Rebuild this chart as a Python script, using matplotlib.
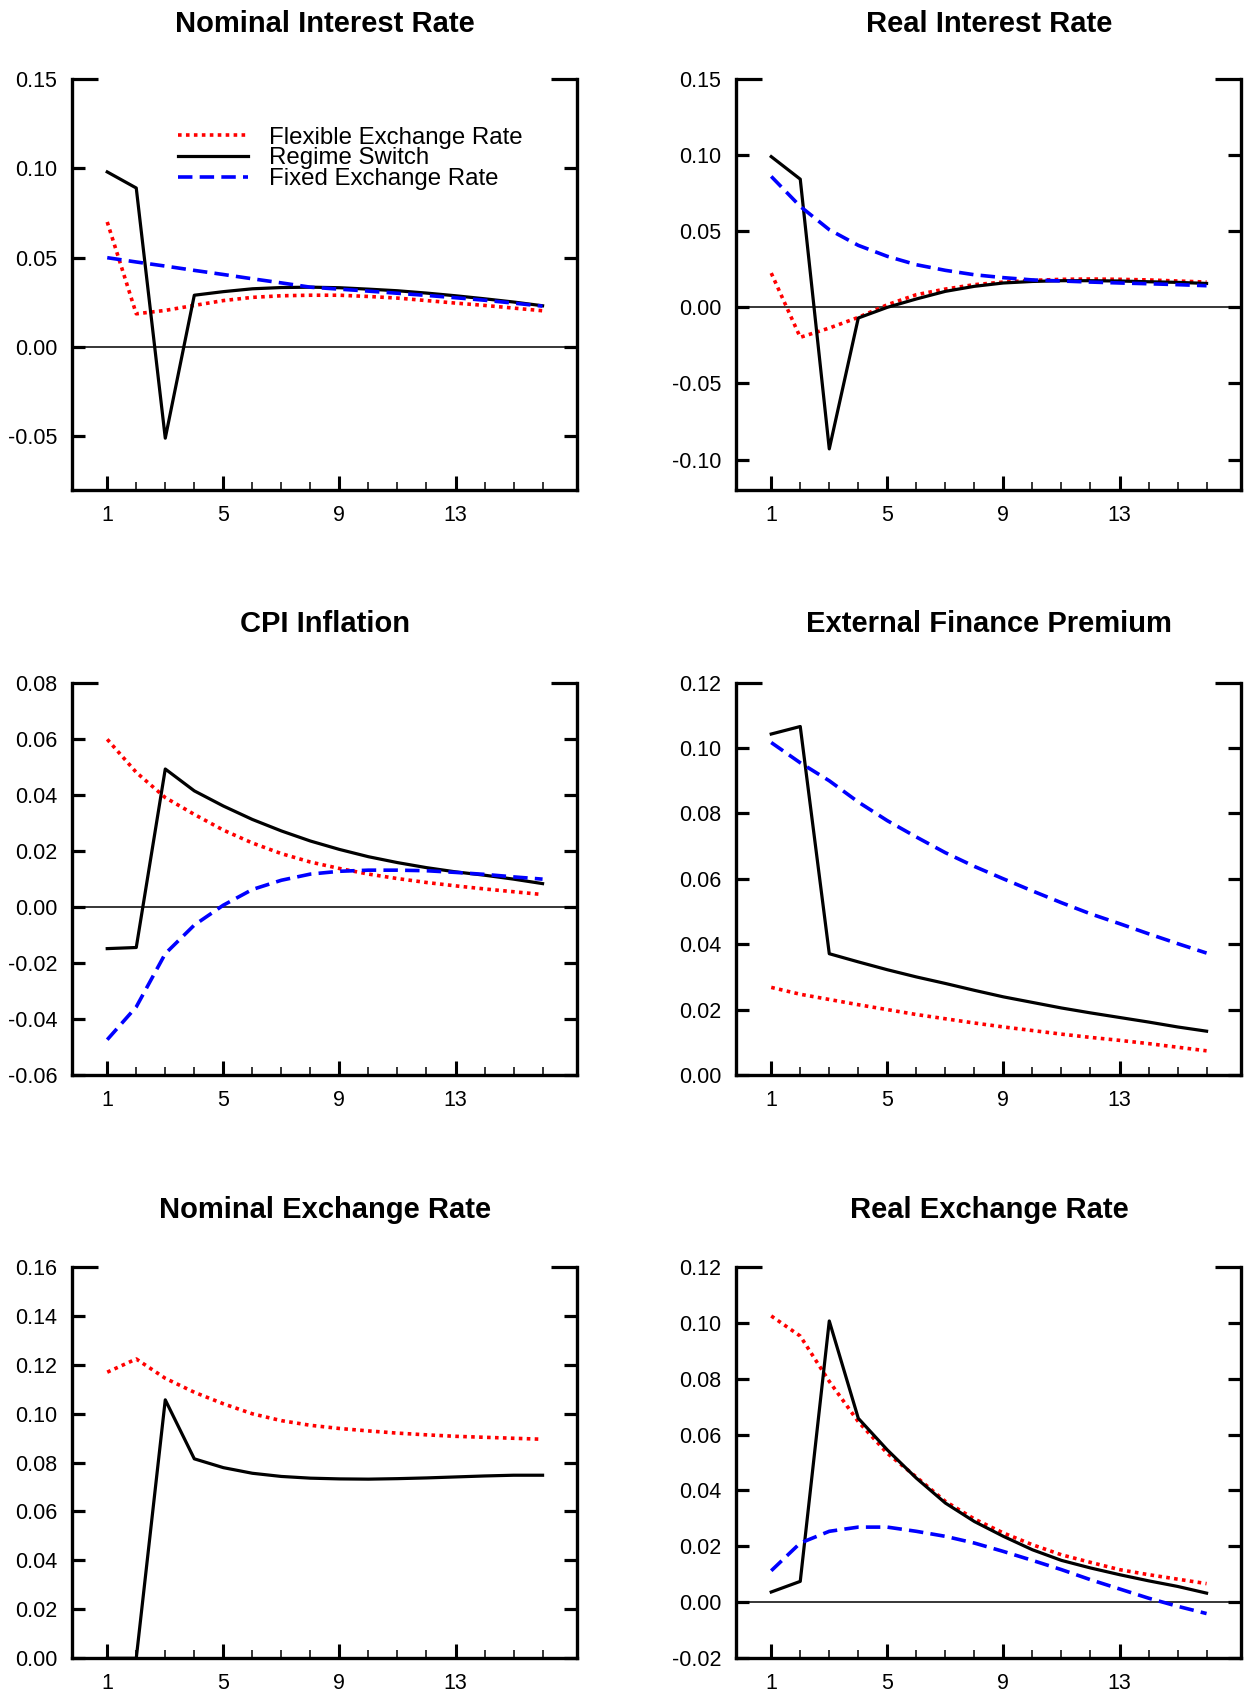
import numpy as np
import matplotlib
matplotlib.use("Agg")
import matplotlib.pyplot as plt
from matplotlib.ticker import FixedLocator, FormatStrFormatter

plt.rcParams['font.family'] = ['Liberation Sans', 'DejaVu Sans']

# ---------------- dados ----------------
periodos = np.arange(1, 17)

nomes_series = ["Flexible Exchange Rate", "Regime Switch", "Fixed Exchange Rate"]

titulos = ["Nominal Interest Rate", "Real Interest Rate",
           "CPI Inflation", "External Finance Premium",
           "Nominal Exchange Rate", "Real Exchange Rate"]

# Nominal Interest Rate
nir_flex = [0.070, 0.0186, 0.0205, 0.0233, 0.026, 0.0278, 0.0287, 0.029,
            0.029, 0.0283, 0.0274, 0.026, 0.0246, 0.0233, 0.0218, 0.0203]
nir_switch = [0.098, 0.089, -0.051, 0.029, 0.031, 0.0326, 0.0333, 0.0335,
              0.0332, 0.0324, 0.0315, 0.0302, 0.0287, 0.027, 0.0252, 0.0231]
nir_fixed = [0.050, 0.0476, 0.0453, 0.0429, 0.0406, 0.0382, 0.0359, 0.0335,
             0.0324, 0.0313, 0.0301, 0.0289, 0.0276, 0.0262, 0.0246, 0.0229]

# Real Interest Rate
rir_flex = [0.0225, -0.0197, -0.0136, -0.0066, 0.0017, 0.0083, 0.012, 0.0149,
            0.0166, 0.0177, 0.0184, 0.0186, 0.0184, 0.018, 0.0173, 0.0166]
rir_switch = [0.099, 0.0842, -0.093, -0.007, 0.0, 0.0055, 0.0105, 0.0138,
              0.016, 0.017, 0.0175, 0.0175, 0.0173, 0.0168, 0.0164, 0.0157]
rir_fixed = [0.086, 0.0663, 0.051, 0.0407, 0.0335, 0.028, 0.0243, 0.0214,
             0.0195, 0.018, 0.0173, 0.0166, 0.016, 0.0155, 0.0149, 0.0142]

# CPI Inflation
cpi_flex = [0.0598, 0.048, 0.039, 0.033, 0.0274, 0.0228, 0.019, 0.016,
            0.0137, 0.0117, 0.0101, 0.0087, 0.0075, 0.0064, 0.0054, 0.0044]
cpi_switch = [-0.0149, -0.0145, 0.0492, 0.0414, 0.036, 0.0312, 0.0271, 0.0235,
              0.0205, 0.0179, 0.0158, 0.014, 0.0125, 0.0113, 0.0099, 0.0083]
cpi_fixed = [-0.0474, -0.0357, -0.0167, -0.0065, 0.0006, 0.0062, 0.0095, 0.0117,
             0.0127, 0.0131, 0.0131, 0.0129, 0.0123, 0.0116, 0.0107, 0.0099]

# External Finance Premium
efp_flex = [0.0268, 0.0247, 0.0231, 0.0215, 0.0200, 0.0185, 0.0172, 0.0159,
            0.0147, 0.0136, 0.0125, 0.0115, 0.0106, 0.0096, 0.0085, 0.0074]
efp_switch = [0.1043, 0.1066, 0.0371, 0.0346, 0.0322, 0.030, 0.028, 0.0259,
              0.0239, 0.0222, 0.0205, 0.019, 0.0176, 0.0162, 0.0147, 0.0134]
efp_fixed = [0.1017, 0.0955, 0.090, 0.0835, 0.0778, 0.0728, 0.068, 0.0638,
             0.0600, 0.0563, 0.0527, 0.0493, 0.0463, 0.0432, 0.0402, 0.0373]

# Nominal Exchange Rate
ner_flex = [0.1169, 0.1223, 0.1144, 0.1087, 0.104, 0.0999, 0.0971, 0.0952,
            0.0939, 0.0929, 0.092, 0.0913, 0.0907, 0.0903, 0.0899, 0.0895]
ner_switch = [0.0, 0.0, 0.1056, 0.0815, 0.0779, 0.0756, 0.0743, 0.0736,
              0.0733, 0.0732, 0.0734, 0.0737, 0.0741, 0.0745, 0.0748, 0.0748]
ner_fixed = [0.0] * 16

# Real Exchange Rate
rer_flex = [0.1024, 0.0952, 0.079, 0.0646, 0.0533, 0.0448, 0.0361, 0.0298,
            0.0248, 0.0206, 0.017, 0.0143, 0.0117, 0.0099, 0.0083, 0.0067]
rer_switch = [0.0037, 0.0075, 0.1006, 0.0658, 0.0545, 0.0444, 0.0355, 0.0289,
              0.0236, 0.0188, 0.015, 0.0123, 0.0099, 0.0077, 0.0057, 0.0033]
rer_fixed = [0.0113, 0.0212, 0.0254, 0.0269, 0.0269, 0.0254, 0.0236, 0.0212,
             0.0182, 0.015, 0.0117, 0.0081, 0.0048, 0.0015, -0.0014, -0.004]

series = [(nir_flex, nir_switch, nir_fixed), (rir_flex, rir_switch, rir_fixed),
          (cpi_flex, cpi_switch, cpi_fixed), (efp_flex, efp_switch, efp_fixed),
          (ner_flex, ner_switch, ner_fixed), (rer_flex, rer_switch, rer_fixed)]

# limites e marcas do eixo y de cada painel
limites_y = [(-0.08, 0.15), (-0.12, 0.15), (-0.06, 0.08),
             (0.0, 0.12), (0.0, 0.16), (-0.02, 0.12)]
marcas_y = [[-0.05, 0.0, 0.05, 0.10, 0.15],
            [-0.10, -0.05, 0.0, 0.05, 0.10, 0.15],
            [-0.06, -0.04, -0.02, 0.0, 0.02, 0.04, 0.06, 0.08],
            [0.0, 0.02, 0.04, 0.06, 0.08, 0.10, 0.12],
            [0.0, 0.02, 0.04, 0.06, 0.08, 0.10, 0.12, 0.14, 0.16],
            [-0.02, 0.0, 0.02, 0.04, 0.06, 0.08, 0.10, 0.12]]

# ---------------- layout (pixels da figura) ----------------
W, H = 1244, 1692
col_x = [72.4, 736.4]
larg = 505
linhas = [(79, 490), (682.7, 1075), (1266.7, 1658.3)]
base_titulo = [31.7, 631.7, 1218.4]

vermelho = "#ff0000"
azul = "#0000ff"
tam_ticks = 15.5

fig = plt.figure(figsize=(W / 100, H / 100), dpi=100)

for k in range(6):
    lin, col = divmod(k, 2)
    topo, fundo = linhas[lin]
    ax = fig.add_axes([col_x[col] / W, 1 - fundo / H, larg / W, (fundo - topo) / H])

    flex, switch, fixo = series[k]
    ax.plot(periodos, flex, color=vermelho, lw=2.6, linestyle=(0, (1, 1.2)),
            label=nomes_series[0])
    ax.plot(periodos, switch, color="black", lw=2.3, label=nomes_series[1])
    # serie toda nula fica escondida sob o eixo, como no original
    if np.any(fixo):
        ax.plot(periodos, fixo, color=azul, lw=2.6, linestyle=(0, (4, 2)),
                label=nomes_series[2])

    y0, y1 = limites_y[k]
    if y0 < 0:
        ax.axhline(0, color="black", lw=1.1, zorder=1.5)

    ax.set_xlim(-0.2, 17.2)
    ax.set_ylim(y0, y1)

    ax.spines['top'].set_visible(False)
    for s in ['left', 'right', 'bottom']:
        ax.spines[s].set_linewidth(2.4)

    ax.xaxis.set_major_locator(FixedLocator([1, 5, 9, 13]))
    ax.xaxis.set_minor_locator(FixedLocator([p for p in periodos if p not in (1, 5, 9, 13)]))
    ax.yaxis.set_major_locator(FixedLocator(marcas_y[k]))
    ax.yaxis.set_major_formatter(FormatStrFormatter('%.2f'))

    ax.tick_params(axis='x', which='major', direction='in', length=10, width=2.2,
                   labelsize=tam_ticks, pad=10.5, top=False)
    ax.tick_params(axis='x', which='minor', direction='in', length=6, width=1.1, top=False)
    ax.tick_params(axis='y', which='major', direction='in', length=9.5, width=2.3,
                   labelsize=tam_ticks, pad=11, left=True, right=True)

    # marca do topo mais comprida (canto do quadro)
    marcas = ax.yaxis.get_major_ticks()
    marcas[-1].tick1line.set_markersize(19)
    marcas[-1].tick2line.set_markersize(19)

    fig.text((col_x[col] + larg / 2) / W, 1 - base_titulo[lin] / H, titulos[k],
             ha='center', va='baseline', fontsize=21, fontweight='bold')

    if k == 0:
        ax.legend(loc='center left', bbox_to_anchor=(0.209, 0.807), frameon=False,
                  fontsize=17.3, borderpad=0, borderaxespad=0, labelspacing=-0.05,
                  handlelength=2.9, handletextpad=0.9)

fig.savefig("out.png", dpi=100)
